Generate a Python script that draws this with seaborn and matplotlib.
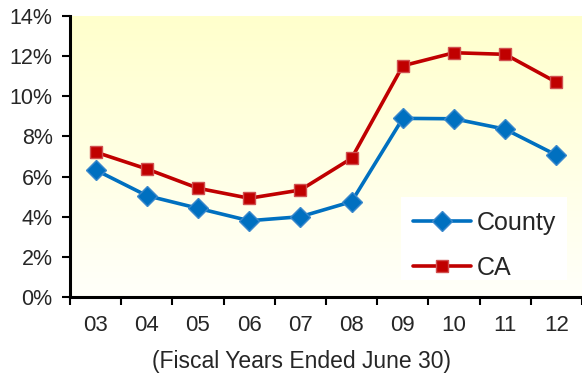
import numpy as np
import pandas as pd
import matplotlib
matplotlib.use("Agg")
import matplotlib.pyplot as plt
from matplotlib.colors import LinearSegmentedColormap
from matplotlib.patches import Rectangle
import seaborn as sns

years = ["03", "04", "05", "06", "07", "08", "09", "10", "11", "12"]
county = [6.33, 5.05, 4.42, 3.80, 4.00, 4.75, 8.90, 8.88, 8.36, 7.07]
ca = [7.22, 6.38, 5.42, 4.92, 5.33, 6.91, 11.52, 12.17, 12.09, 10.70]
y_ticks = [0, 2, 4, 6, 8, 10, 12, 14]

sns.set_theme(style="white")
plt.rcParams["font.family"] = ["Liberation Sans", "DejaVu Sans"]

df = pd.DataFrame({
    "year": years * 2,
    "rate": county + ca,
    "series": ["County"] * len(years) + ["CA"] * len(years),
})

fig = plt.figure(figsize=(5.82, 3.79), dpi=100)
ax = fig.add_axes([70 / 582, 1 - 297 / 379, 1 - 70 / 582, (297 - 16) / 379])

# soft yellow gradient behind the plot area
grad = LinearSegmentedColormap.from_list("bg", ["#FFFFFA", "#FFFFCC"])
ax.imshow(np.linspace(0, 1, 256).reshape(-1, 1), aspect="auto", cmap=grad,
          origin="lower", extent=[-0.5, 9.5, 0, 14], zorder=0)

palette = {"County": "#0070C0", "CA": "#C00000"}
sns.lineplot(data=df, x="year", y="rate", hue="series", style="series",
             markers={"County": "D", "CA": "s"}, dashes=False,
             palette=palette, linewidth=2.6, markersize=9,
             markeredgewidth=1.0, ax=ax, zorder=3, sort=False)

for line in ax.get_lines():
    if line.get_marker() == "D":
        line.set_markeredgecolor("#3A88CC")
        line.set_markersize(10)
    else:
        line.set_markeredgecolor("#D05050")

ax.set_xlim(-0.5, 9.5)
ax.set_ylim(0, 14)
ax.set_yticks(y_ticks)
ax.set_yticklabels([f"{v}%" for v in y_ticks], fontsize=15.5)

# ticks between categories, labels centred on categories
ax.set_xticks(np.arange(-0.5, 10, 1.0))
ax.set_xticklabels([])
ax.set_xticks(np.arange(len(years)), minor=True)
ax.set_xticklabels(years, minor=True, fontsize=16)
ax.tick_params(axis="x", which="major", direction="out", length=5.5, width=1.5,
               color="black", bottom=True)
ax.tick_params(axis="x", which="minor", length=0, pad=13)
ax.tick_params(axis="y", direction="out", length=5.5, width=1.5, color="black",
               left=True, pad=7)

ax.set_xlabel("(Fiscal Years Ended June 30)", fontsize=16.5)
ax.xaxis.set_label_coords((302 - 70) / 513, -0.19)
ax.set_ylabel("")

for side in ("top", "right"):
    ax.spines[side].set_visible(False)
for side in ("left", "bottom"):
    ax.spines[side].set_color("black")
    ax.spines[side].set_linewidth(2.2)

# white legend panel
ax.add_patch(Rectangle((0.647, 0.06), 0.324, 0.296, transform=ax.transAxes,
                       facecolor="white", edgecolor="none", zorder=4))
handles, labels = ax.get_legend_handles_labels()
leg = ax.legend(handles, labels, loc="upper left",
                bbox_to_anchor=(0.669, 0.307), borderaxespad=0, borderpad=0,
                fontsize=18, frameon=False, handlelength=2.35,
                handletextpad=0.2, labelspacing=0.85)
leg.set_zorder(5)

fig.savefig("out.png", dpi=100)
